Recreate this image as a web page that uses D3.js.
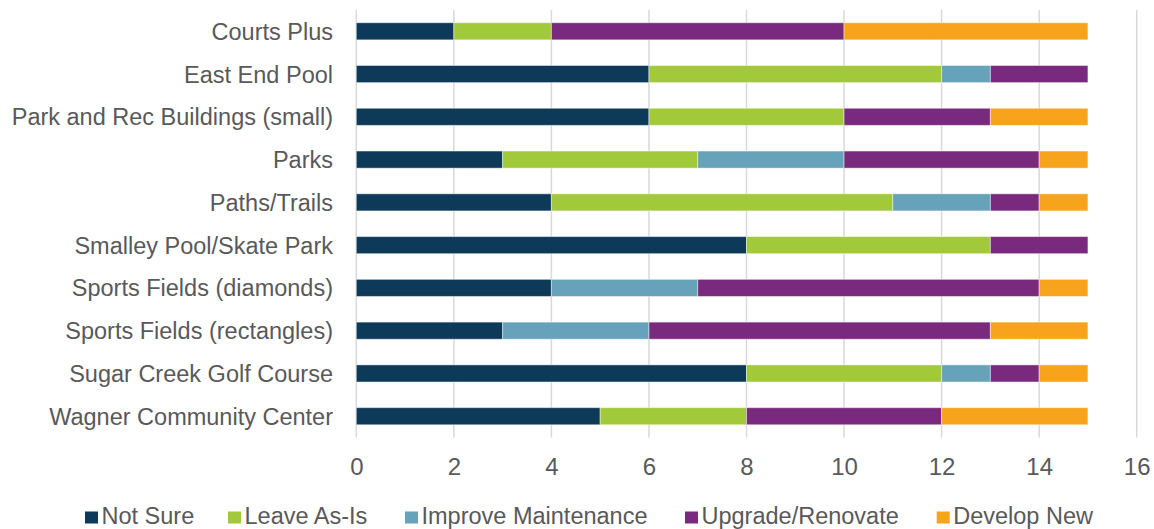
<!DOCTYPE html>
<html><head><meta charset="utf-8">
<script src="https://cdn.jsdelivr.net/npm/d3@7"></script>
<style>body{margin:0;background:#fff}svg{display:block}text{font-family:"Liberation Sans",Arial,sans-serif;fill:#595959}</style>
</head><body><svg id="c" width="1154" height="529"></svg>
<script>
const categories = ["Courts Plus","East End Pool","Park and Rec Buildings (small)","Parks","Paths/Trails","Smalley Pool/Skate Park","Sports Fields (diamonds)","Sports Fields (rectangles)","Sugar Creek Golf Course","Wagner Community Center"];
const seriesNames = ["Not Sure","Leave As-Is","Improve Maintenance","Upgrade/Renovate","Develop New"];
const notSure     = [2,6,6,3,4,8,4,3,8,5];
const leaveAsIs   = [2,6,4,4,7,5,0,0,4,3];
const improveMaint= [0,1,0,3,2,0,3,3,1,0];
const upgrade     = [6,2,3,4,1,2,7,7,1,4];
const developNew  = [5,0,2,1,1,0,1,2,1,3];
const colors = ["#0e3a5a","#a2c93a","#66a2b9","#7a2a7e","#f7a31c"];
const xTicks = [0,2,4,6,8,10,12,14,16];

const seriesValues = [notSure,leaveAsIs,improveMaint,upgrade,developNew];
const rows = categories.map((c,i)=>{const r={cat:c};seriesNames.forEach((s,j)=>r[s]=seriesValues[j][i]);return r;});
const stacked = d3.stack().keys(seriesNames)(rows);

const svg = d3.select("#c");
const x = d3.scaleLinear().domain([0,16]).range([356.3,1136.7]);
const y = d3.scaleBand().domain(categories).range([9.9,437.6]).paddingInner(0.6).paddingOuter(0.3);

// gridlines
svg.append("g").selectAll("line").data(xTicks).join("line")
  .attr("x1",d=>x(d)).attr("x2",d=>x(d)).attr("y1",9.9).attr("y2",437.6)
  .attr("stroke","#d9d9d9").attr("stroke-width",1.5);

// bars
svg.append("g").selectAll("g").data(stacked).join("g")
  .attr("fill",(d,i)=>colors[i])
  .selectAll("rect").data(d=>d.filter(p=>p[1]-p[0]>0)).join("rect")
  .attr("x",d=>x(d[0])).attr("width",d=>x(d[1])-x(d[0]))
  .attr("y",d=>y(d.data.cat)).attr("height",y.bandwidth())
  .attr("stroke","rgba(255,255,255,0.45)").attr("stroke-width",1);

// x axis
const xa = svg.append("g").attr("transform","translate(0,475)")
  .call(d3.axisBottom(x).tickValues(xTicks).tickSize(0).tickPadding(0).tickFormat(d3.format("d")));
xa.select(".domain").remove();
xa.selectAll("text").attr("dy",0).attr("y",0).style("font-size","24px").attr("fill","#595959");

// y axis
const ya = svg.append("g").attr("transform","translate(333,0)")
  .call(d3.axisLeft(y).tickSize(0).tickPadding(0));
ya.select(".domain").remove();
ya.selectAll("text").style("font-size","23.5px").attr("dy","0.36em").attr("fill","#595959");

// legend
const legX = [85,228,405,685,936.7];
const lg = svg.append("g").selectAll("g").data(seriesNames).join("g")
  .attr("transform",(d,i)=>`translate(${legX[i]},0)`);
lg.append("rect").attr("x",0).attr("y",511.5).attr("width",13).attr("height",12).attr("fill",(d,i)=>colors[i]);
lg.append("text").attr("x",16.5).attr("y",524).style("font-size","23.5px").text(d=>d);
</script></body></html>
